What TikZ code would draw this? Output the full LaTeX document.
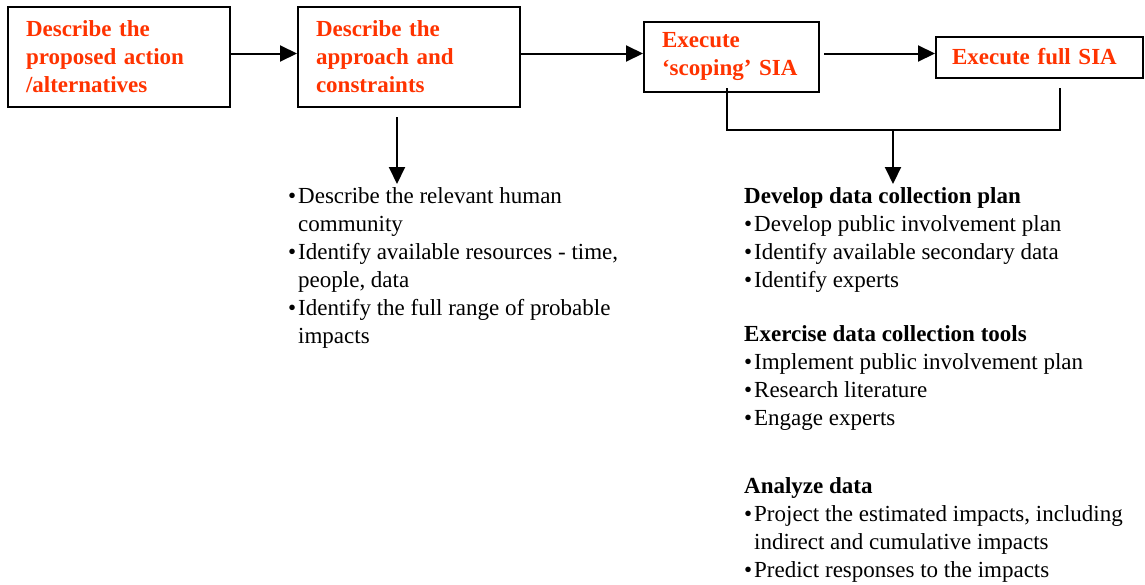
\documentclass[tikz,border=0pt]{standalone}
\usepackage{fontspec}
\setmainfont{Liberation Serif}
\usetikzlibrary{arrows.meta}
\definecolor{stepred}{RGB}{255,51,0}
\newcommand\bitem{\makebox[10pt][l]{•}}
\newcommand\bcont{\hspace*{10pt}}
\begin{document}
\begin{tikzpicture}[x=1pt,y=-1pt,
  box/.style={draw=black, line width=2pt, inner xsep=18pt, inner ysep=0pt,
    align=left, text=stepred, font=\fontsize{23}{28}\selectfont\bfseries},
  link/.style={line width=2pt, -{Triangle[length=17pt,width=16pt]}},
  plain/.style={line width=2pt},
  list/.style={inner sep=0pt, align=left, font=\fontsize{23}{28}\selectfont, anchor=base west}]
\useasboundingbox (0,0) rectangle (1145,584);

% process steps
\node[box, minimum width=222pt, minimum height=100pt, text width=186pt] (b1) at (119,57)
  {Describe the\\proposed action\\/alternatives};
\node[box, minimum width=222pt, minimum height=100pt, text width=186pt] (b2) at (409,57)
  {Describe the\\approach and\\constraints};
\node[box, minimum width=175pt, minimum height=70pt, text width=139pt] (b3) at (731.5,57)
  {Execute\\‘scoping’ SIA};
\node[box, minimum width=207pt, minimum height=41pt, text width=175pt, inner xsep=16pt] (b4) at (1039.5,57)
  {Execute full SIA};

% main flow
\draw[link] ([yshift=3.5pt]b1.east) -- ([yshift=3.5pt]b2.west);
\draw[link] ([yshift=3.5pt]b2.east) -- ([yshift=3.5pt]b3.west);
\draw[link] ([xshift=4pt,yshift=3.5pt]b3.east) -- ([yshift=3.5pt]b4.west);

% scoping notes (anchored on the baseline of the last line)
\coordinate (s0) at (397,117);
\coordinate (s1) at (397,184);
\draw[link] (s0) -- (s1);
\node[list] (scope) at (288,343)
  {\bitem Describe the relevant human\\
   \bcont community\\
   \bitem Identify available resources - time,\\
   \bcont people, data\\
   \bitem Identify the full range of probable\\
   \bcont impacts};

% bracket joining both SIA steps
\coordinate (j1) at (727,88);
\coordinate (j2) at (727,130);
\coordinate (j3) at (1060,130);
\coordinate (j4) at (1060,88);
\coordinate (jm) at (893,130);
\coordinate (jt) at (893,184);
\draw[plain] (j1) -- (j2) -- (j3) -- (j4);
\draw[link] (jm) -- (jt);

% full SIA tasks
\node[list] (plan) at (744,287)
  {\textbf{Develop data collection plan}\\
   \bitem Develop public involvement plan\\
   \bitem Identify available secondary data\\
   \bitem Identify experts};
\node[list] (tools) at (744,425)
  {\textbf{Exercise data collection tools}\\
   \bitem Implement public involvement plan\\
   \bitem Research literature\\
   \bitem Engage experts};
\node[list] (analyze) at (744,577)
  {\textbf{Analyze data}\\
   \bitem Project the estimated impacts, including\\
   \bcont indirect and cumulative impacts\\
   \bitem Predict responses to the impacts};
\end{tikzpicture}
\end{document}
